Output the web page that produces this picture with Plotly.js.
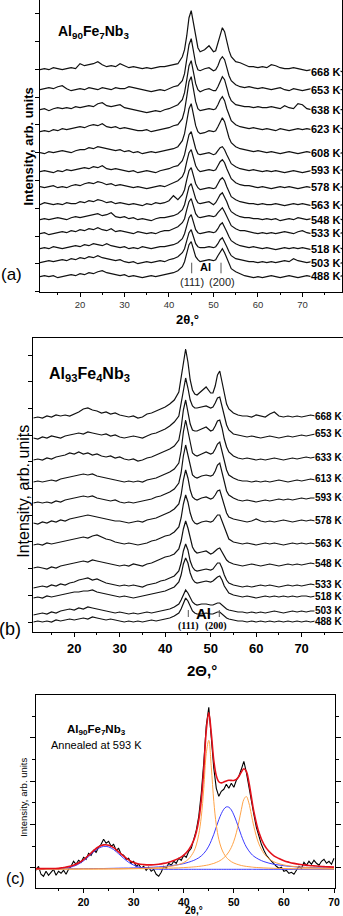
<!DOCTYPE html>
<html>
<head>
<meta charset="utf-8">
<script src="https://cdn.plot.ly/plotly-3.0.1.min.js"></script>
<style>
  html, body { margin: 0; padding: 0; background: #fff; }
  #fig { width: 343px; height: 916px; }
</style>
</head>
<body>
<div id="fig"></div>
<script>
// 2theta sampling of the stacked patterns in (a) and (b)
const twoTheta = [11,12,13,14,15,16,17,18,19,20,
  21,22,23,24,25,26,27,28,29,30,
  31,32,33,34,35,36,37,38,39,40,
  41,42,43,43.5,44,44.5,45,45.5,46,46.5,
  47,48,49,50,50.5,51,51.5,52,52.5,53,
  53.5,54,55,56,57,58,59,60,61,62,
  63,64,65,66,67,68,69,70,71,72,
  73,74,75,76,77,78,79];

// (a) Al90Fe7Nb3, intensity above each pattern's own baseline
const tempsA = ["668 K","653 K","638 K","623 K","608 K","593 K","578 K","563 K","548 K","533 K","518 K","503 K","488 K"];
const offsetsA = [222, 202, 182, 162, 139, 120, 104, 87, 72, 58, 43, 29, 15];

const a668 = [0,1,0,2,1,0,1,2,1,6, 4,5,6,8,5,3,4,3,6,4, 2,3,2,1,2,1,2,3,3,4,
  5,6,13,20,34,52,59,46,31,22, 18,20,24,18,19,26,35,42,38,28,
  19,13,8,7,5,3,3,2,3,2, 5,4,2,1,1,2,1,0,-1,0, -1,0,-2,-1,-2,-1,-2];
const a653 = [0,1,2,1,3,4,1,-1,0,1, 0,2,1,0,2,1,0,2,1,1, 3,2,1,0,-1,-2,-1,0,-1,1,
  3,4,9,16,30,45,51,38,26,20, 19,21,22,19,20,24,30,33,30,22,
  14,9,5,3,2,3,2,1,2,1, 0,1,2,0,-1,1,0,-1,0,1, -1,0,1,0,-1,0,0];
const a638 = [0,1,-1,1,2,1,2,1,3,2, 3,4,3,6,7,4,3,4,5,2, 1,0,-1,-2,-3,-2,-1,-2,0,1,
  3,5,10,17,30,44,49,37,26,20, 18,20,21,19,19,23,29,33,30,22,
  14,9,5,4,3,3,2,3,2,2, 3,2,1,4,2,1,6,5,1,0, 0,1,-1,0,1,0,0];
const a623 = [-2,-1,-2,0,-1,1,0,1,2,3, 2,4,5,4,6,3,2,3,1,2, 1,0,-1,-1,0,-2,-1,0,1,2,
  4,5,11,19,33,48,53,40,28,21, 19,20,21,20,21,25,30,33,29,21,
  14,9,5,3,2,1,2,1,0,1, 0,-1,1,0,-1,0,1,0,1,0, 1,0,1,0,1,2,1];
const a608 = [0,-1,1,0,1,2,1,0,2,3, 3,5,4,6,5,4,3,2,3,1, 2,0,1,-1,0,1,0,1,2,3,
  4,6,12,19,31,44,49,38,27,21, 19,20,22,21,22,26,31,35,31,23,
  15,10,6,4,3,2,1,2,1,0, 1,0,-1,0,1,0,-1,0,1,0, 0,-1,0,1,0,-1,0];
const a593 = [0,1,0,-1,1,0,2,1,2,3, 4,3,5,4,6,3,2,3,2,1, 0,1,-1,0,1,0,-1,1,2,3,
  5,6,11,17,27,37,40,32,23,18, 17,18,19,17,18,21,24,25,22,17,
  12,8,5,3,2,1,2,1,0,1, 0,1,0,-1,0,1,0,-1,0,1, 0,1,0,-1,0,1,2];
const a578 = [1,0,1,2,0,1,0,2,3,2, 4,5,4,6,5,3,4,2,3,2, 1,0,1,0,-1,0,1,2,1,3,
  5,7,11,16,26,35,38,30,22,18, 16,17,18,17,18,22,26,28,25,19,
  13,9,5,3,2,2,1,0,1,0, -1,0,1,0,1,0,-1,0,1,0, 1,0,-1,0,1,0,1];
const a563 = [0,2,1,0,1,0,2,1,1,3, 2,4,3,5,4,2,3,1,2,1, 0,1,0,-1,1,0,2,1,2,4,
  9,5,10,15,25,34,37,29,21,17, 15,16,17,16,17,21,25,27,24,18,
  12,8,5,3,2,1,1,0,1,0, 0,1,0,-1,0,1,0,1,0,-1, 0,1,0,1,0,-1,0];
const a548 = [0,1,0,1,2,1,0,2,3,2, 3,4,5,6,4,5,7,3,2,3, 1,2,0,1,0,-1,1,2,2,3,
  4,6,10,15,24,33,36,28,21,17, 16,17,18,15,17,21,25,27,23,18,
  12,8,5,3,2,2,1,1,0,1, 0,1,-1,0,1,0,2,1,0,1, 0,-1,0,1,0,1,0];
const a533 = [0,1,-1,0,1,2,1,3,2,4, 3,5,4,6,4,3,5,2,3,2, 1,0,2,1,0,1,0,2,3,3,
  5,7,11,15,24,32,35,27,20,17, 16,17,18,17,18,21,24,26,22,17,
  12,8,5,3,3,2,1,0,1,0, 1,0,1,2,1,0,2,3,1,0, 1,0,1,0,-1,0,1];
const a518 = [0,1,0,2,1,0,1,2,3,2, 4,3,5,4,3,5,3,2,1,2, 0,1,0,2,1,0,1,2,2,3,
  4,6,10,15,23,31,34,26,19,16, 15,16,17,16,17,20,24,26,22,17,
  12,8,5,3,2,1,2,1,0,1, 0,-1,0,1,0,1,0,1,0,-1, 0,1,0,-1,0,1,0];
const a503 = [0,1,2,1,2,3,2,4,3,5, 4,6,5,7,5,4,3,2,3,1, 0,1,-1,0,1,0,1,2,1,3,
  4,6,10,14,22,30,33,26,19,16, 15,15,16,15,16,19,23,25,21,16,
  11,7,4,3,2,1,1,0,1,0, 1,0,1,2,1,4,2,1,0,1, 0,1,0,1,0,-1,0];
const a488 = [0,1,0,1,-1,0,1,2,1,3, 2,4,3,5,6,4,3,2,1,2, 0,1,0,-1,0,1,0,1,2,3,
  4,6,10,15,24,32,35,27,20,17, 15,16,17,16,17,21,25,28,24,18,
  12,8,5,3,1,0,-1,0,-1,0, 1,0,-1,0,1,0,-1,0,1,0, 0,-1,0,1,0,0,1];

// (b) Al93Fe4Nb3
const tempsB = ["668 K","653 K","633 K","613 K","593 K","578 K","563 K","548 K","533 K","518 K","503 K","488 K"];
const offsetsB = [214, 194, 172, 150, 129, 109, 87, 64, 44, 34, 17, 10];

const b668 = [0,1,0,2,1,3,2,3,2,4, 6,9,10,8,7,5,6,4,5,3, 2,1,2,0,1,4,5,7,9,11,
  14,18,26,40,58,69,56,38,28,24, 23,27,31,25,25,32,43,47,36,22,
  14,9,5,3,2,2,1,3,2,1, 4,6,2,1,2,1,2,1,2,3, 2,3,2,1,2,3,2];
const b653 = [0,-1,1,0,2,1,0,2,3,4, 5,4,6,5,4,3,4,2,3,1, 0,1,2,1,0,2,4,5,7,9,
  12,16,22,34,50,60,50,38,32,30, 30,31,32,30,31,35,40,41,32,20,
  13,8,4,3,2,1,2,1,0,1, 2,1,0,1,2,1,2,3,2,3, 4,3,4,5,4,5,5];
const b633 = [0,1,0,2,1,3,4,5,7,6, 8,6,7,5,6,4,3,4,2,3, 1,0,1,-1,0,2,3,5,7,9,
  11,14,20,32,50,60,49,36,30,29, 29,31,33,29,30,34,39,40,32,21,
  13,8,4,2,1,2,1,0,1,0, 1,2,1,0,1,2,1,2,3,2, 3,2,3,2,3,3,3];
const b613 = [0,1,0,1,2,1,3,4,5,6, 7,8,7,8,6,5,4,3,2,1, 0,1,0,1,0,2,3,4,6,8,
  10,13,19,31,50,62,51,37,29,27, 26,28,30,28,29,33,38,40,31,20,
  12,7,4,2,1,1,0,1,0,1, 0,1,2,1,0,1,2,1,2,3, 2,3,4,3,4,4,4];
const b593 = [0,1,0,1,0,2,1,3,4,5, 6,7,6,7,5,4,3,2,3,1, 0,1,0,1,2,3,4,6,7,9,
  11,14,20,30,47,58,48,35,28,26, 25,27,28,27,28,32,38,40,31,20,
  12,8,5,3,2,3,2,1,2,3, 2,3,4,3,4,3,4,5,4,5, 5,4,5,6,5,6,6];
const b578 = [0,-1,1,0,2,1,3,2,4,5, 6,7,8,7,6,5,4,3,2,2, 1,0,1,2,1,3,4,5,7,9,
  11,14,19,28,43,53,45,33,26,24, 23,25,26,24,25,28,32,33,26,17,
  10,6,4,3,2,1,2,4,2,1, 2,1,2,3,2,1,2,3,2,3, 2,3,4,3,3,4,3];
const b563 = [0,1,0,2,1,2,3,4,5,6, 7,8,7,9,10,8,6,5,3,2, 1,2,1,0,1,2,4,5,7,9,
  10,13,18,27,41,50,43,32,25,22, 21,23,24,23,24,27,30,30,24,16,
  10,6,3,2,1,2,1,0,1,2, 1,2,1,0,1,2,1,2,1,2, 1,2,3,2,2,3,2];
const b548 = [0,1,0,-1,1,0,2,3,4,5, 6,7,6,8,7,6,5,4,3,2, 3,2,4,3,2,4,5,7,9,11,
  12,14,19,27,39,47,40,29,21,17, 15,16,17,14,15,17,19,20,16,11,
  8,6,4,3,2,3,4,3,2,3, 4,3,2,3,4,3,4,3,4,5, 4,5,4,5,6,5,5];
const b533 = [0,1,2,1,3,2,4,3,5,6, 8,9,10,8,9,7,5,4,3,2, 3,2,3,2,1,3,4,5,7,8,
  10,12,17,25,37,44,38,27,21,18, 17,18,19,18,19,22,25,25,20,13,
  8,5,3,2,1,2,1,2,3,2, 3,2,1,2,3,2,3,2,3,4, 3,4,3,4,3,4,4];
const b518 = [0,1,0,2,1,2,3,4,5,6, 6,7,7,8,6,5,4,3,2,1, 2,1,0,1,2,3,4,5,6,7,
  9,11,16,23,34,40,35,25,19,16, 15,16,17,16,17,19,21,22,18,12,
  8,5,3,2,1,2,1,0,1,2, 1,2,1,2,1,2,1,2,2,1, 2,1,2,2,1,2,2];
const b503 = [0,1,2,1,3,2,4,5,6,5, 7,6,8,7,6,5,4,3,2,3, 2,1,2,1,2,3,2,3,4,5,
  6,8,11,15,21,25,22,17,13,11, 10,11,11,10,10,11,12,12,10,8,
  6,5,4,3,3,2,3,2,3,2, 3,4,3,2,3,4,3,4,3,4, 4,5,4,5,4,5,5];
const b488 = [0,1,0,1,0,2,1,2,3,2, 3,4,3,5,4,3,2,3,2,1, 0,1,0,1,0,1,2,1,2,3,
  4,6,9,13,19,24,21,15,11,9, 8,8,9,8,8,9,10,10,8,6,
  4,3,2,1,1,0,1,0,1,0, 1,0,1,0,1,0,1,0,1,0, 1,0,1,0,1,1,1];

// (c) Al90Fe7Nb3 annealed at 593 K: measured pattern
const dataTheta = [10.5,11,11.5,12,12.5,13,13.5,14,14.5,15,
  15.5,16,16.5,17,17.5,18,18.5,19,19.5,20,
  20.5,21,21.5,22,22.5,23,23.5,24,24.5,25,
  25.5,26,26.5,27,27.5,28,28.5,29,29.5,30,
  30.5,31,31.5,32,32.5,33,33.5,34,34.5,35,
  35.5,36,36.5,37,37.5,38,38.5,39,39.5,40,
  40.5,41,41.5,42,42.5,43,43.5,44,44.5,45,
  45.5,46,46.5,47,47.5,48,48.5,49,49.5,50,
  50.5,51,51.5,52,52.5,53,53.5,54,54.5,55,
  55.5,56,56.5,57,57.5,58,58.5,59,59.5,60,
  60.5,61,61.5,62,62.5,63,63.5,64,64.5,65,
  65.5,66,66.5,67,67.5,68,68.5,69,69.5,70];
const measured = [18,22,14,12,17,13,16,19,13,17,
  15,18,14,19,22,27,24,28,26,31,
  29,35,33,38,36,41,44,49,45,47,
  42,44,38,40,34,33,29,30,25,27,
  22,24,20,22,18,21,17,19,14,12,
  16,22,20,25,23,27,25,30,28,33,
  31,37,40,48,58,72,95,126,163,181,
  152,120,100,92,97,99,104,100,105,101,
  108,112,119,127,116,101,87,74,61,51,
  44,38,33,30,27,25,22,20,21,17,
  18,15,16,14,18,22,20,26,23,27,
  24,28,25,23,27,29,25,27,24,30];

// (c) fitted profile and its components
const fitTheta = [10,11,12,13,14,15,16,17,18,19,20,21,22,23,24,25,26,27,28,29,30,
  31,32,33,34,35,36,37,38,39,40,41,
  42,42.5,43,43.5,44,44.5,45,45.5,46,46.5,47,47.5,48,48.5,49,49.5,50,50.5,51,51.5,52,52.5,53,53.5,54,
  55,56,57,58,59,60,61,62,63,64,65,66,67,68,69,70];
const fitTotal = [19.7,19.7,19.7,19.8,19.8,19.9,20.8,21.7,23.1,25.3,28.7,33,37.7,41.5,43.4,43.1,40.6,36.5,32.2,28.4,25.8,
  24.3,23.7,23.4,23.6,24.1,24.9,26.1,27.8,29.9,33.2,38.5,
  48,56,68.3,88,119,158,175.7,155,127.8,112.7,106.6,105.4,106.3,107.4,108,107.9,107.8,108.9,111.8,116.2,119.6,117,106.4,91.3,76.7,
  56,44,37,32.5,29.8,27.6,26.1,24.9,24,23.4,22.8,22.4,22,21.7,21.4,21.2];
const peak111 = [19.1,19.2,19.2,19.2,19.2,19.2,19.2,19.2,19.2,19.3,19.3,19.3,19.3,19.4,19.4,19.4,19.5,19.5,19.6,19.7,19.8,
  19.9,20,20.2,20.4,20.7,21.1,21.7,22.5,23.8,25.8,29.4,
  36.7,43.3,53.9,71.4,99.6,135,148,121.2,86.9,63.3,49,40.3,34.7,31,28.5,26.6,25.3,24.3,23.5,22.8,22.3,21.9,21.6,21.3,21,
  20.7,20.4,20.2,20,19.9,19.8,19.7,19.6,19.5,19.5,19.4,19.4,19.4,19.3,19.3,19.3];
const peak200 = [19.2,19.2,19.2,19.2,19.2,19.2,19.2,19.2,19.2,19.2,19.3,19.3,19.3,19.3,19.3,19.4,19.4,19.4,19.4,19.5,19.5,
  19.6,19.6,19.7,19.8,19.9,20,20.1,20.3,20.4,20.7,21,
  21.4,21.6,21.9,22.2,22.6,23,23.5,24.2,24.9,25.9,27,28.5,30.5,33,36.4,40.9,47.1,55.5,66.3,78.6,88.9,91.8,85.4,73.7,61.7,
  44.4,34.9,29.6,26.5,24.6,23.3,22.4,21.8,21.3,20.9,20.6,20.4,20.2,20.1,19.9,19.8];
const broadMid = [19.4,19.4,19.4,19.5,19.5,19.5,19.5,19.6,19.6,19.6,19.7,19.7,19.8,19.8,19.8,19.9,20,20.1,20.2,20.2,20.4,
  20.5,20.7,20.9,21.1,21.4,21.8,22.3,23,23.7,24.7,26.1,
  27.9,29.1,30.5,32.4,34.8,38,42.2,47.6,54,61.5,68.6,74.6,79.1,81.4,81.1,78.4,73.4,67.1,60,52.8,46.4,41.3,37.4,34.3,32,
  28.9,26.7,25.2,24,23.3,22.6,22,21.6,21.2,21,20.8,20.6,20.5,20.3,20.2,20.1];
const broadLow = [19,19,19,19,19,19,19.9,20.7,22,24.2,27.5,31.7,36.3,40,41.9,41.4,38.7,34.5,30,26,23.2,
  21.3,20.3,19.6,19.3,19.1,19,19,19,19,19,19,
  19,19,19,19,19,19,19,19,19,19,19,19,19,19,19,19,19,19,19,19,19,19,19,19,19,
  19,19,19,19,19,19,19,19,19,19,19,19,19,19,19,19];

const W = 343, H = 916;
const SANS = "Liberation Sans, Arial, sans-serif";
const SERIF = "Liberation Serif, Times New Roman, serif";
const px = v => v / W;
const py = v => 1 - v / H;

const patternsA = [a668, a653, a638, a623, a608, a593, a578, a563, a548, a533, a518, a503, a488];
const patternsB = [b668, b653, b633, b613, b593, b578, b563, b548, b533, b518, b503, b488];

const traces = [];
const annotations = [];

patternsA.forEach((p, i) => {
  traces.push({x: twoTheta, y: p.map(v => v + offsetsA[i]), xaxis: "x", yaxis: "y",
    type: "scatter", mode: "lines", line: {color: "#111", width: 1.2}, hoverinfo: "skip"});
  annotations.push({text: "<b>" + tempsA[i] + "</b>", xref: "paper", x: px(341), xanchor: "right",
    yref: "y", y: offsetsA[i] + p[p.length - 1], yanchor: "middle", showarrow: false,
    bgcolor: "#fff", borderpad: 0, font: {family: SANS, size: 11, color: "#000"}});
});
patternsB.forEach((p, i) => {
  traces.push({x: twoTheta, y: p.map(v => v + offsetsB[i]), xaxis: "x2", yaxis: "y2",
    type: "scatter", mode: "lines", line: {color: "#111", width: 1.2}, hoverinfo: "skip"});
  annotations.push({text: "<b>" + tempsB[i] + "</b>", xref: "paper", x: px(343), xanchor: "right",
    yref: "y2", y: offsetsB[i] + p[p.length - 1], yanchor: "middle", showarrow: false,
    bgcolor: "#fff", borderpad: 0, font: {family: SANS, size: 10, color: "#000"}});
});

function line3(x, y, color, width, shape) {
  return {x: x, y: y, xaxis: "x3", yaxis: "y3", type: "scatter", mode: "lines",
    line: {color: color, width: width, shape: shape || "linear"}, hoverinfo: "skip"};
}
traces.push(line3(dataTheta, measured, "#000", 1.1));
traces.push(line3(fitTheta, broadLow, "#3b3bff", 1, "spline"));
traces.push(line3(fitTheta, broadMid, "#3b3bff", 1, "spline"));
traces.push(line3(fitTheta, peak111, "#ffa347", 1, "spline"));
traces.push(line3(fitTheta, peak200, "#ffa347", 1, "spline"));
traces.push(line3(fitTheta, fitTotal, "#e3101a", 1.6, "spline"));

function note(text, x, y, size, extra) {
  return Object.assign({text: text, xref: "paper", yref: "paper", x: px(x), y: py(y),
    xanchor: "center", yanchor: "middle", showarrow: false,
    font: {family: SANS, size: size, color: "#000"}}, extra || {});
}
annotations.push(
  note("<b>Al<sub>90</sub>Fe<sub>7</sub>Nb<sub>3</sub></b>", 56, 32, 14, {xanchor: "left"}),
  note("<b>Intensity, arb. units</b>", 28, 146.5, 13, {textangle: -90}),
  note("(a)", 11, 275, 17),
  note("<b>2θ,°</b>", 187.5, 320, 13),
  note("<b>Al</b>", 205.8, 267.5, 11),
  note("(111)", 191.7, 281.7, 11, {font: {family: SANS, size: 11, color: "#222"}}),
  note("(200)", 221.7, 281.7, 11, {font: {family: SANS, size: 11, color: "#222"}}),

  note("<b>Al<sub>93</sub>Fe<sub>4</sub>Nb<sub>3</sub></b>", 46.7, 374, 16, {xanchor: "left"}),
  note("Intensity, arb. units", 23.3, 491.5, 16, {textangle: -90}),
  note("(b)", 10, 629, 18),
  note("<b>2Θ,°</b>", 201.7, 670, 15),
  note("<b>Al</b>", 203.5, 613, 15),
  note("<b>(111)</b>", 189, 625.5, 10, {font: {family: SERIF, size: 10, color: "#000"}}),
  note("<b>(200)</b>", 216, 625.5, 10, {font: {family: SERIF, size: 10, color: "#000"}}),

  note("<b>Al<sub>90</sub>Fe<sub>7</sub>Nb<sub>3</sub></b>", 96.5, 730, 11.5),
  note("Annealed at 593 K", 96, 744.5, 11),
  note("Intensity, arb. units", 23.3, 797.5, 9.5, {textangle: -90}),
  note("(c)", 15, 878, 16),
  note("<b>2θ,°</b>", 194, 910, 10)
);

function bar(x, y0, y1) {
  return {type: "line", xref: "paper", yref: "paper", x0: px(x), x1: px(x), y0: py(y0), y1: py(y1),
    line: {color: "#555", width: 1}};
}
const shapes = [bar(191.7, 262.7, 273.3), bar(221, 262.7, 273.3), bar(188.3, 610, 617), bar(219.3, 610, 617)];

const frame = {showline: true, linecolor: "#000", linewidth: 1, mirror: true, zeroline: false, showgrid: false, fixedrange: true};
function bottomAxis(range, domain, anchor, tickfont, extra) {
  return Object.assign({}, frame, {range: range, domain: domain, anchor: anchor,
    ticks: "outside", ticklen: 4, tickcolor: "#000", tick0: 0, dtick: 10,
    minor: {tick0: 0, dtick: 5, ticks: "outside", ticklen: 2, tickcolor: "#000"},
    tickfont: tickfont}, extra || {});
}
function topAxis(over, range, anchor) {
  return {overlaying: over, side: "top", anchor: anchor, range: range, showline: false, showgrid: false,
    zeroline: false, showticklabels: false, ticks: "inside", ticklen: 4, tickcolor: "#000", tick0: 0, dtick: 10,
    minor: {tick0: 0, dtick: 5, ticks: "inside", ticklen: 2, tickcolor: "#000"}, fixedrange: true};
}
function leftAxis(range, domain, anchor, tick0, dtick) {
  return Object.assign({}, frame, {range: range, domain: domain, anchor: anchor, mirror: "ticks",
    ticks: "outside", ticklen: 4, tickcolor: "#000", tick0: tick0, dtick: dtick, showticklabels: false});
}

const layout = {
  width: W, height: H, margin: {l: 0, r: 0, t: 0, b: 0},
  paper_bgcolor: "#fff", plot_bgcolor: "#fff", showlegend: false,
  font: {family: SANS, color: "#000"},
  xaxis: bottomAxis([11, 78.9], [px(40), px(342)], "y", {family: SANS, size: 9.5, color: "#333"}),
  yaxis: leftAxis([0, 291.7], [py(291.7), 1], "x", 0, 27.8),
  xaxis2: bottomAxis([11, 79.1], [px(33.3), 1], "y2", {family: SANS, size: 13, color: "#000", weight: "bold"}),
  yaxis2: leftAxis([0, 294.3], [py(632), py(337.7)], "x2", 10, 26.7),
  xaxis3: bottomAxis([10.4, 70.2], [px(35.5), px(335)], "y3", {family: SANS, size: 10.5, color: "#000", weight: "bold"}),
  yaxis3: Object.assign(leftAxis([0, 193.3], [py(888.3), py(695)], "x3", 20.6, 43.33),
    {ticklen: 5, minor: {tick0: 20.6, dtick: 21.67, ticks: "outside", ticklen: 3, tickcolor: "#000"}}),
  xaxis4: topAxis("x", [11, 78.9], "y"),
  xaxis5: topAxis("x2", [11, 79.1], "y2"),
  xaxis6: topAxis("x3", [10.4, 70.2], "y3"),
  annotations: annotations,
  shapes: shapes
};

Plotly.newPlot("fig", traces, layout, {staticPlot: true, displayModeBar: false});
</script>
</body>
</html>
